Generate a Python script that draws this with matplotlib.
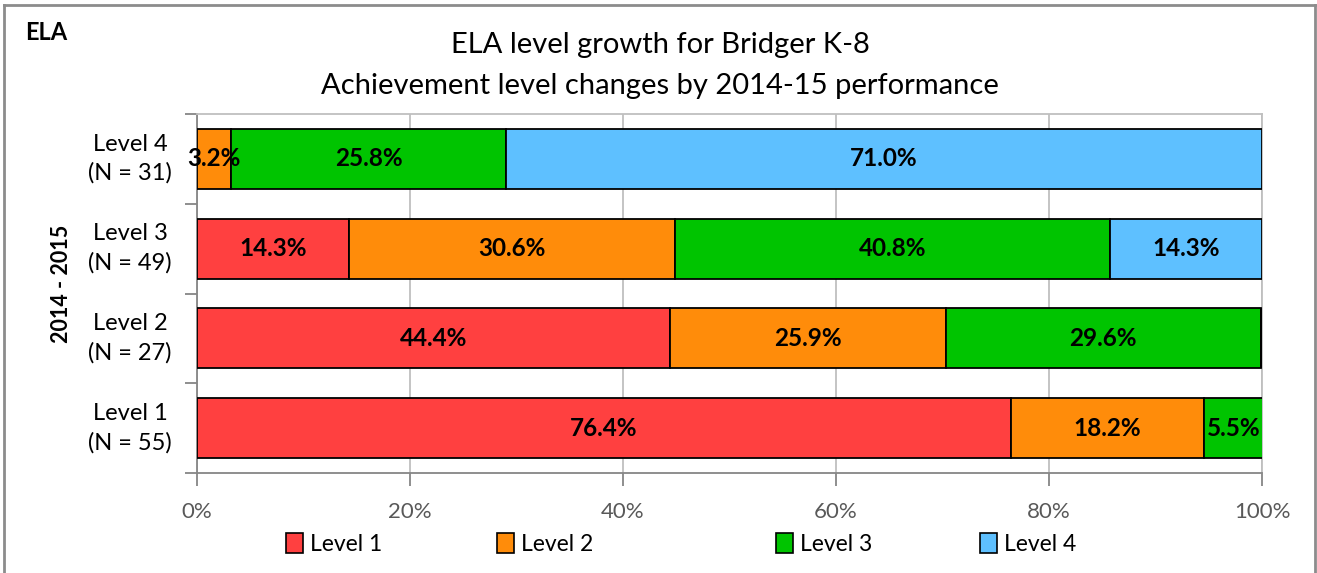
import matplotlib
matplotlib.use("Agg")
import matplotlib.pyplot as plt
from matplotlib.patches import Patch
from matplotlib.lines import Line2D

categories = ["Level 1\n(N = 55)", "Level 2\n(N = 27)", "Level 3\n(N = 49)", "Level 4\n(N = 31)"]
series_names = ["Level 1", "Level 2", "Level 3", "Level 4"]
level1 = [76.4, 44.4, 14.3, 0.0]
level2 = [18.2, 25.9, 30.6, 3.2]
level3 = [5.5, 29.6, 40.8, 25.8]
level4 = [0.0, 0.0, 14.3, 71.0]
colors = ["#FF4040", "#FF8C0A", "#00C400", "#5EC0FF"]
xticks = [0, 20, 40, 60, 80, 100]
xticklabels = ["0%", "20%", "40%", "60%", "80%", "100%"]

plt.rcParams['font.family'] = ['Lato', 'DejaVu Sans']

W, H = 1317, 573
fig = plt.figure(figsize=(W / 100, H / 100), dpi=100)
ax = fig.add_axes([197/W, 1 - 473/H, (1262-197)/W, (473-114)/H])

series = [level1, level2, level3, level4]
ypos = list(range(len(categories)))
left = [0.0] * len(categories)
for name, vals, col in zip(series_names, series, colors):
    bars = ax.barh(ypos, vals, left=left, height=0.667, color=col,
                   edgecolor="black", linewidth=1.3, label=name, zorder=3)
    for b, v, l in zip(bars, vals, left):
        if v > 0:
            ax.text(l + v / 2, b.get_y() + b.get_height() / 2, f"{v:.1f}%",
                    ha="center", va="center", fontsize=17.5, fontweight="bold",
                    color="black", zorder=4)
    left = [a + b for a, b in zip(left, vals)]

ax.set_xlim(0, 100)
ax.set_ylim(-0.5, 3.5)
ax.set_xticks(xticks)
ax.set_xticklabels(xticklabels, fontsize=16, color="#595959")
ax.set_yticks([i + 0.5 for i in range(-1, 4)])
ax.set_yticklabels([])
for i, c in enumerate(categories):
    ax.text(-0.0235, i, c, ha="right", va="center", fontsize=17,
            multialignment="center", linespacing=1.45,
            transform=ax.get_yaxis_transform(), color="black")

ax.tick_params(axis="y", length=9, color="#868686", width=1.3)
ax.tick_params(axis="x", length=9, color="#868686", width=1.3, pad=12)
ax.grid(axis="x", color="#BFBFBF", linewidth=1.3, zorder=0)
ax.set_axisbelow(True)
for s in ["top", "right"]:
    ax.spines[s].set_color("#BFBFBF")
    ax.spines[s].set_linewidth(1.3)
for s in ["left", "bottom"]:
    ax.spines[s].set_color("#868686")
    ax.spines[s].set_linewidth(1.3)

fig.text(660/W, 1 - 45/H, "ELA level growth for Bridger K-8", ha="center", va="center", fontsize=21)
fig.text(660/W, 1 - 86/H, "Achievement level changes by 2014-15 performance", ha="center", va="center", fontsize=21)
fig.text(25/W, 1 - 33/H, "ELA", ha="left", va="center", fontsize=17, fontweight="bold")
fig.text(62/W, 1 - 284/H, "2014 - 2015", ha="center", va="center", rotation=90, fontsize=15.5, fontweight="bold")

legend_x = [286, 497, 776, 980]
for c, name, lx in zip(colors, series_names, legend_x):
    fig.legend([Patch(facecolor=c, edgecolor="black", linewidth=1.2)], [name],
               loc="center left", bbox_to_anchor=(lx / W, 1 - 544/H),
               frameon=False, fontsize=16.5, handlelength=0.75, handleheight=0.95,
               handletextpad=0.3, borderpad=0, borderaxespad=0)

# outer chart border
bc = "#8C8C8C"
fig.add_artist(Line2D([4/W, 4/W], [0, 1 - 5/H], color=bc, linewidth=2, transform=fig.transFigure))
fig.add_artist(Line2D([4/W, 1315/W], [1 - 5/H, 1 - 5/H], color=bc, linewidth=2, transform=fig.transFigure))
fig.add_artist(Line2D([1315/W, 1315/W], [0, 1 - 5/H], color=bc, linewidth=2, transform=fig.transFigure))

fig.savefig("out.png", dpi=100)
